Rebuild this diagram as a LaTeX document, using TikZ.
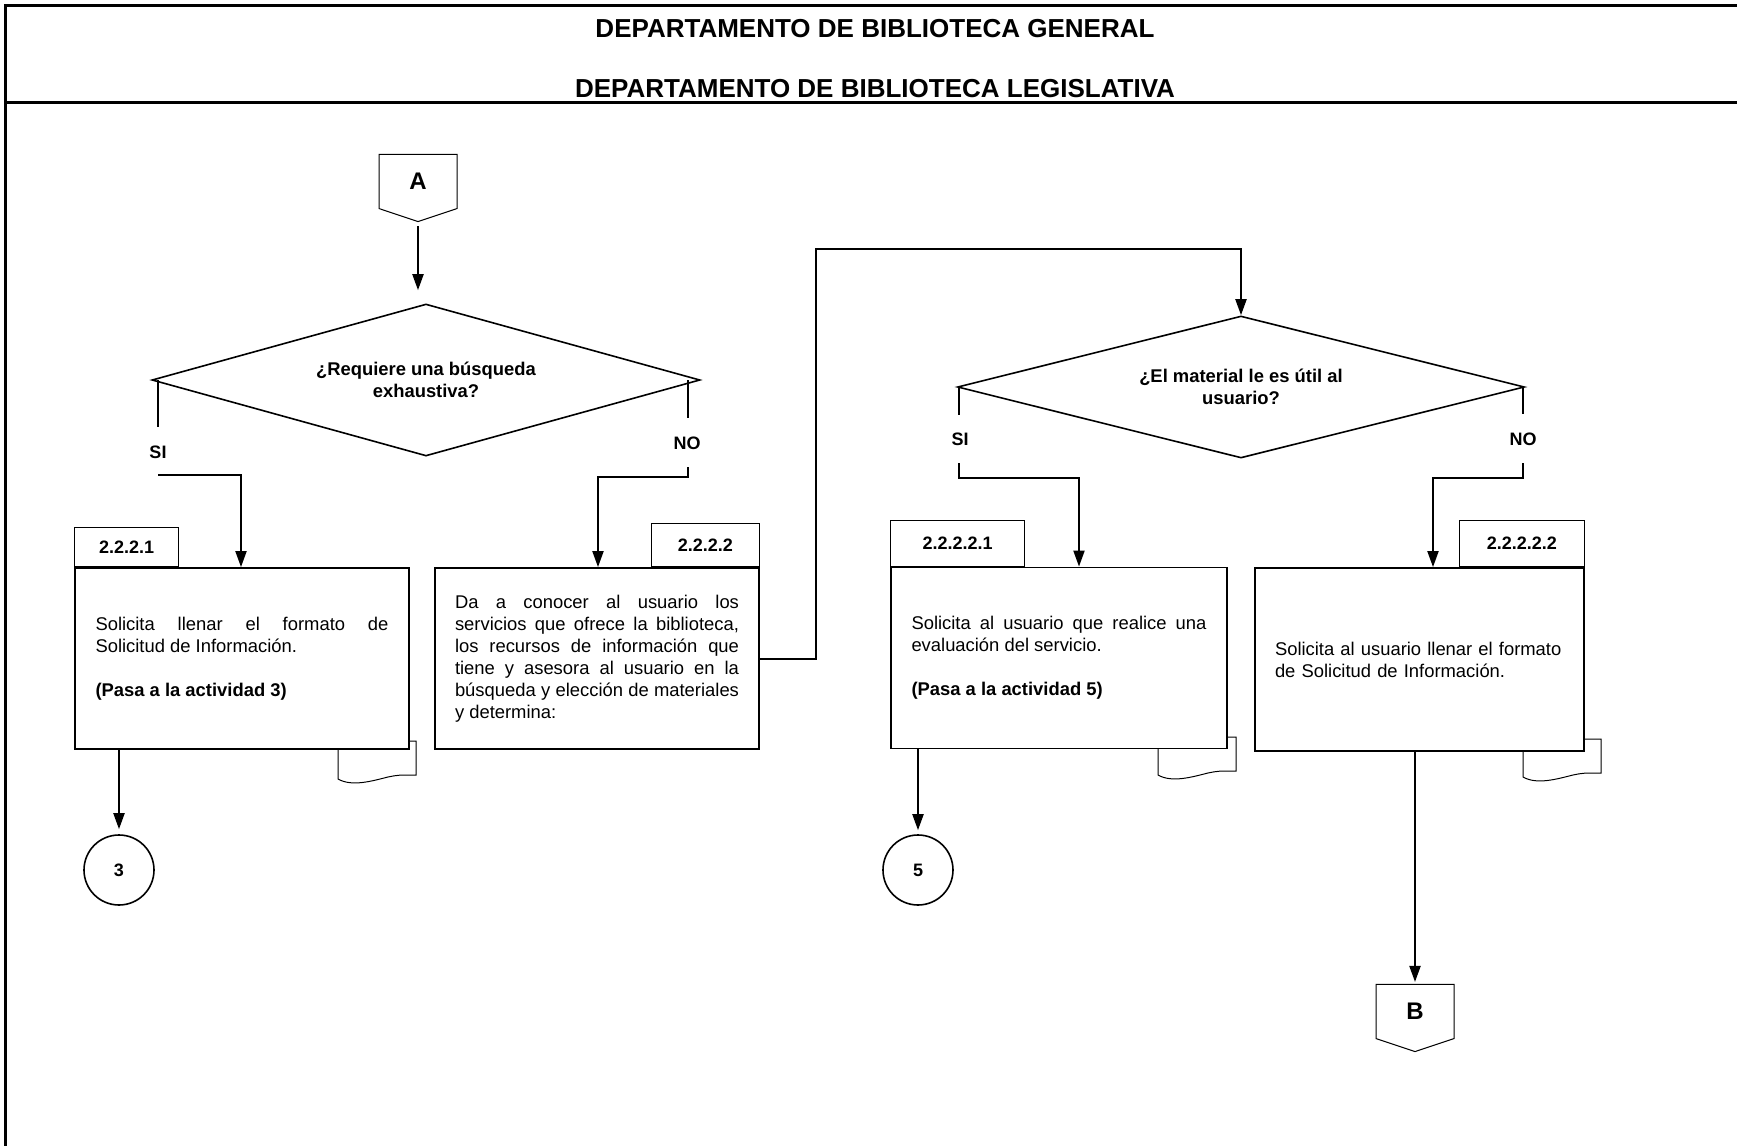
\documentclass[tikz,border=0pt]{standalone}
\usepackage{fontspec}
\setmainfont{Liberation Sans}
\usetikzlibrary{shapes,arrows.meta,positioning}

\newcommand{\docsign}[1]{\draw[docsign, shift={(#1)}] (0,0) -- (0,38) .. controls (14,46) and (34,40) .. (50,36) .. controls (60,34) .. (78,34) -- (78,0) -- cycle;}

\begin{document}
\begin{tikzpicture}[x=0.5pt, y=-0.5pt,
    every node/.style={font=\fontsize{9.2}{11}\selectfont},
    frame/.style={line width=1.5pt},
    link/.style={line width=1pt},
    flow/.style={line width=1pt, -{Triangle[length=8pt,width=5.5pt]}},
    proc/.style={rectangle, draw, line width=0.9pt, fill=white, minimum height=90.5pt, inner sep=0pt},
    tag/.style={rectangle, draw, line width=0.5pt, fill=white, font=\fontsize{9}{11}\selectfont\bfseries},
    decision/.style={diamond, draw, line width=0.8pt, inner sep=0pt, align=center, font=\fontsize{9.2}{11}\selectfont\bfseries},
    offpage/.style={signal, signal to=south, signal pointer angle=143, draw, line width=0.5pt, minimum width=39pt, minimum height=28.5pt, inner sep=0pt, font=\fontsize{12}{14}\selectfont\bfseries},
    conn/.style={circle, draw, line width=0.8pt, minimum size=35pt, inner sep=0pt, font=\fontsize{9}{11}\selectfont\bfseries},
    answer/.style={inner sep=1pt, font=\fontsize{9}{11}\selectfont\bfseries},
    title/.style={font=\fontsize{13}{15}\selectfont\bfseries},
    docsign/.style={line width=0.5pt, fill=white}]
    \useasboundingbox (0,0) rectangle (1737,1146);

    % Frame and header
    \draw[frame] (1737,5) -- (5,5) -- (5,1146);
    \draw[frame] (5,102) -- (1737,102);
    \node[title] (h1) at (875,29) {DEPARTAMENTO DE BIBLIOTECA GENERAL};
    \node[title] (h2) at (875,89) {DEPARTAMENTO DE BIBLIOTECA LEGISLATIVA};

    % Document marks behind the boxes
    \docsign{338,741}
    \docsign{1158,737}
    \docsign{1523,739}

    % Connectors
    \node[offpage] (pa) at (418,181.5) {A};
    \node[offpage] (pb) at (1415,1011.5) {B};
    \node[conn] (c3) at (119,870) {3};
    \node[conn] (c5) at (918,870) {5};

    % Decisions
    \node[decision, aspect=3.6, minimum width=274pt, minimum height=76pt] (d1) at (426,380) {¿Requiere una búsqueda\\exhaustiva?};
    \node[decision, aspect=4, minimum width=283.5pt, minimum height=71pt] (d2) at (1241,387) {¿El material le es útil al\\usuario?};

    % Activities
    \node[proc, minimum width=167pt, text width=146.5pt, align=justify] (b1) at (242,658.5)
        {Solicita llenar el formato de\linebreak Solicitud de Información.\\[11pt]\textbf{(Pasa a la actividad 3)}};
    \node[proc, minimum width=162pt, text width=142pt, align=justify] (b2) at (597,658.5)
        {Da a conocer al usuario los\linebreak servicios que ofrece la biblioteca,\linebreak los recursos de información que\linebreak tiene y asesora al usuario en la\linebreak búsqueda y elección de materiales\linebreak y determina:};
    \node[proc, minimum width=168pt, text width=147.5pt, align=justify] (b3) at (1059,658)
        {Solicita al usuario que realice una\linebreak evaluación del servicio.\\[11pt]\textbf{(Pasa a la actividad 5)}};
    \node[proc, minimum width=164.5pt, minimum height=91.5pt, text width=144.5pt, align=left] (b4) at (1419.5,659.5)
        {Solicita al usuario llenar el formato\\de Solicitud de Información.};

    % Activity numbers
    \node[tag, minimum width=52pt, minimum height=19.5pt, anchor=south west] (t1) at (b1.north west) {2.2.2.1};
    \node[tag, minimum width=54pt, minimum height=21.5pt, anchor=south east] (t2) at (b2.north east) {2.2.2.2};
    \node[tag, minimum width=67pt, minimum height=23pt, anchor=south west] (t3) at (b3.north west) {2.2.2.2.1};
    \node[tag, minimum width=62.5pt, minimum height=23pt, anchor=south east] (t4) at (b4.north east) {2.2.2.2.2};

    % Answers
    \node[answer] (si1) at (158,452) {SI};
    \node[answer] (no1) at (687,443) {NO};
    \node[answer] (si2) at (960,439) {SI};
    \node[answer] (no2) at (1523,439) {NO};

    % Bends
    \coordinate (s1a) at (158,427);
    \coordinate (s1b) at (158,475);
    \coordinate (s1c) at (241,475);
    \coordinate (n1a) at (688,418);
    \coordinate (n1b) at (688,467);
    \coordinate (n1c) at (598,477);
    \coordinate (s2a) at (959,415);
    \coordinate (s2b) at (959,463);
    \coordinate (s2c) at (1079,478);
    \coordinate (n2a) at (1523,414);
    \coordinate (n2b) at (1523,463);
    \coordinate (n2c) at (1433,478);
    \coordinate (lk) at (816,249);

    % Flow
    \draw[flow, shorten <=2pt, shorten >=6.5pt] (pa.south) -- (pa.south |- d1.north);
    \draw[link] (s1a |- d1.west) -- (s1a);
    \draw[flow] (s1b) -- (s1c) -- (s1c |- b1.north);
    \draw[link] (n1a |- d1.east) -- (n1a);
    \draw[flow] (n1b) |- (n1c) -- (n1c |- b2.north);
    \draw[flow] (b2.east) -| (lk) -| (d2.north);
    \draw[link] (s2a |- d2.west) -- (s2a);
    \draw[flow] (s2b) |- (s2c) -- (s2c |- b3.north);
    \draw[link] (n2a |- d2.east) -- (n2a);
    \draw[flow] (n2b) |- (n2c) -- (n2c |- b4.north);
    \draw[flow, shorten >=2.5pt] (c3 |- b1.south) -- (c3.north);
    \draw[flow, shorten >=2pt] (c5 |- b3.south) -- (c5.north);
    \draw[flow, shorten >=1pt] (pb |- b4.south) -- (pb.north);
\end{tikzpicture}
\end{document}
